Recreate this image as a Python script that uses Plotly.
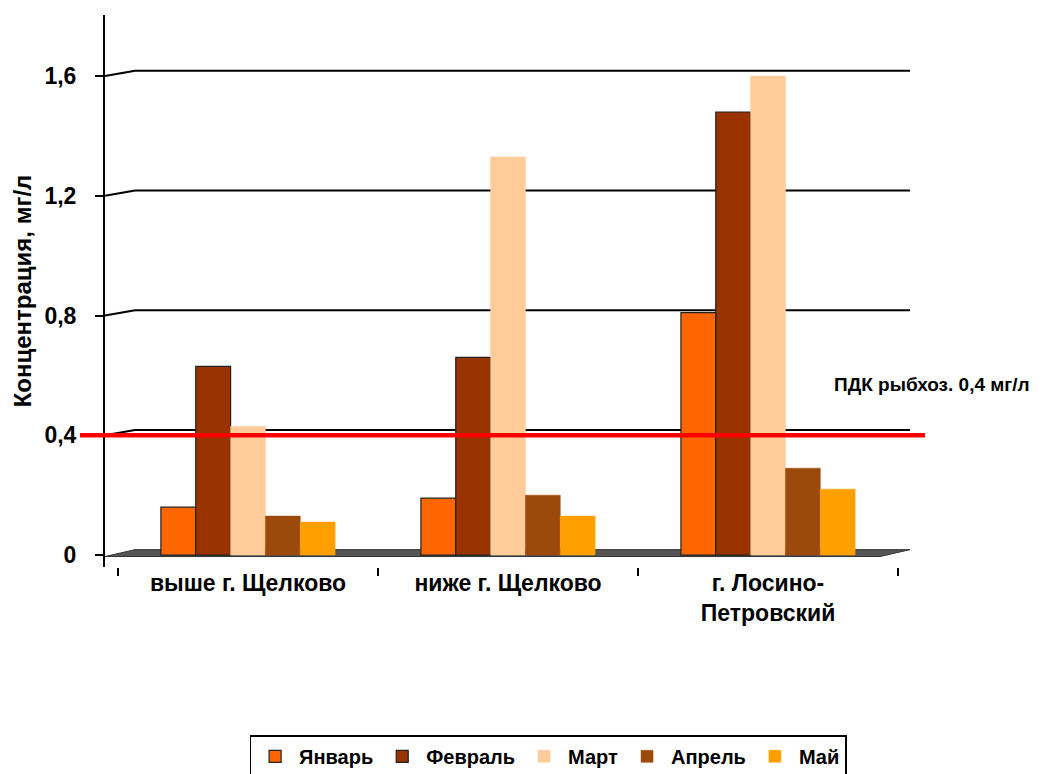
import plotly.graph_objects as go

categories = ["выше г. Щелково", "ниже г. Щелково", "г. Лосино-<br>Петровский"]
months = ["Январь", "Февраль", "Март", "Апрель", "Май"]
values = {
    "Январь":  [0.16, 0.19, 0.81],
    "Февраль": [0.63, 0.66, 1.48],
    "Март":    [0.43, 1.33, 1.60],
    "Апрель":  [0.13, 0.20, 0.29],
    "Май":     [0.11, 0.13, 0.22],
}
colors = ["#FF6600", "#993300", "#FFCC99", "#9C4A0B", "#FFA000"]
outlined = [True, True, False, False, False]
tick_vals = [0, 0.4, 0.8, 1.2, 1.6]
tick_text = ["0", "0,4", "0,8", "1,2", "1,6"]
pdk_value = 0.4
pdk_label = "ПДК рыбхоз. 0,4 мг/л"

FONT = "Liberation Sans, Arial, sans-serif"

fig = go.Figure()
for m, c, o in zip(months, colors, outlined):
    fig.add_trace(go.Bar(
        x=categories, y=values[m], name=m,
        marker=dict(color=c, line=dict(color="#222" if o else c, width=1.2 if o else 0.5)),
    ))

# plot area spans 105..910 px horizontally
L, R = 105, 910
def px(x):
    return (x - L) / (R - L)

shapes = []
off = 0.018
# floor slab
shapes.append(dict(type="path", xref="paper", yref="y",
                   path=f"M {px(105)} -0.005 L {px(135)} {off} L {px(910)} {off} L {px(880)} -0.005 Z",
                   fillcolor="#555555", line=dict(color="#333", width=1), layer="below"))
for v in tick_vals[1:]:
    shapes.append(dict(type="line", xref="paper", yref="y", x0=0, x1=px(135), y0=v, y1=v + off,
                       line=dict(color="black", width=2), layer="below"))
    shapes.append(dict(type="line", xref="paper", yref="y", x0=px(135), x1=1, y0=v + off, y1=v + off,
                       line=dict(color="black", width=2), layer="below"))
# PDK line
shapes.append(dict(type="line", xref="paper", yref="y", x0=px(80), x1=px(925), y0=pdk_value, y1=pdk_value,
                   line=dict(color="#FF0000", width=4.5), layer="above"))

fig.update_layout(
    width=1048, height=774,
    margin=dict(l=L, r=1048 - R, t=15, b=207),
    paper_bgcolor="white", plot_bgcolor="white",
    font=dict(family=FONT, color="black"),
    barmode="group", bargap=0.33, bargroupgap=0,
    shapes=shapes,
    showlegend=True,
    legend=dict(orientation="h", xref="container", yref="container", x=0.523, xanchor="center",
                y=0.05, yanchor="top", bordercolor="black", borderwidth=1.5,
                font=dict(size=20, family=FONT, weight="bold"), itemwidth=38, tracegroupgap=0),
    annotations=[dict(text=f"<b>{pdk_label}</b>", xref="paper", yref="y", x=px(932), y=0.571,
                      showarrow=False, font=dict(size=19, family=FONT), xanchor="center")],
)
fig.update_yaxes(range=[-0.04, 1.804], tickvals=tick_vals, ticktext=tick_text,
                 showgrid=False, zeroline=False, showline=True, linecolor="black", linewidth=2,
                 ticks="outside", ticklen=8, tickwidth=2, tickcolor="black",
                 tickfont=dict(size=23, family=FONT, weight="bold"), ticklabelstandoff=14,
                 title=dict(text="<b>Концентрация, мг/л</b>", font=dict(size=24, family=FONT), standoff=6))
fig.update_xaxes(range=[-0.55, 2.546], showgrid=False, zeroline=False, showline=False,
                 ticks="outside", tickson="boundaries", ticklen=8, tickwidth=1.5, tickcolor="black",
                 tickfont=dict(size=23, family=FONT, weight="bold"))

fig.write_html("out.html")
